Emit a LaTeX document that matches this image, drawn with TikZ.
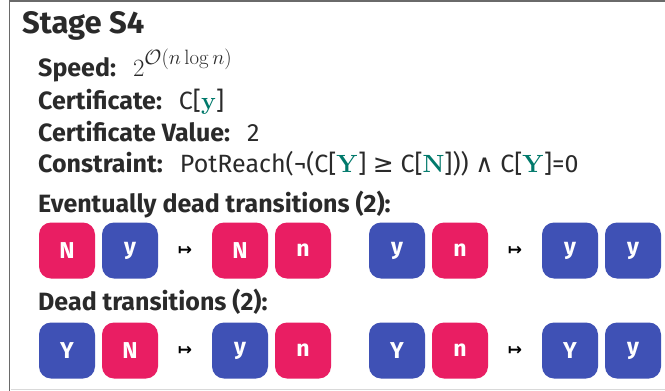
\documentclass[tikz,border=0pt]{standalone}
\usepackage{amsmath}
\usepackage[no-math]{fontspec}
\setmainfont{Fira Sans}
\newfontfamily\symfont{DejaVu Sans}
\definecolor{txt}{HTML}{2A2A2A}
\definecolor{pinkc}{HTML}{E91E63}
\definecolor{bluec}{HTML}{3F51B5}
\definecolor{tealc}{HTML}{00796B}
\definecolor{framec}{HTML}{6A6A6A}
\newcommand{\tv}[1]{\textcolor{tealc}{$\mathbf{#1}$}}
\newcommand{\gapx}{\hspace{17pt}}
\begin{document}
\begin{tikzpicture}[x=1pt,y=-1pt,
  lbl/.style={anchor=base west,inner sep=0pt,text=txt,font=\fontsize{25}{29}\selectfont},
  tok/.style={rounded corners=12pt,minimum width=56pt,minimum height=56pt,inner sep=0pt,text=white,font=\fontsize{23}{27}\selectfont\bfseries},
  pk/.style={tok,fill=pinkc},
  bl/.style={tok,fill=bluec},
  maps/.style={inner sep=0pt,text=black,font=\fontsize{17}{20}\selectfont\symfont\bfseries}]
\useasboundingbox (0,0) rectangle (665,391);
\fill[white] (0,0) rectangle (665,391);
\draw[framec,line width=1.5pt] (9.5,391) -- (9.5,0.75) -- (665,0.75);
\draw[black!15,line width=1pt] (10.5,389.5) -- (665,389.5);

\node[lbl,font=\fontsize{31}{35}\selectfont\bfseries] (title) at (22,33) {Stage S4};
\node[lbl] (speed) at (38,76.5) {\textbf{Speed:}\gapx{\fontsize{26}{30}\selectfont$2$}\raisebox{12.5pt}{\fontsize{21}{24}\selectfont$\mathcal{O}(n\log n)$}};
\node[lbl] (cert) at (38,109) {\textbf{Certificate:}\gapx C[\tv{y}]};
\node[lbl] (certv) at (38,141) {\textbf{Certificate Value:}\gapx 2};
\node[lbl] (cons) at (38,172) {\textbf{Constraint:}\gapx PotReach(¬(C[\tv{Y}] {\symfont ≥} C[\tv{N}])) {\symfont ∧} C[\tv{Y}]=0};
\node[lbl,font=\fontsize{25}{29}\selectfont\bfseries] (ev) at (38,212) {Eventually dead transitions (2):};
\node[lbl,font=\fontsize{25}{29}\selectfont\bfseries] (dead) at (38,310) {Dead transitions (2):};

\node[pk] (a1) at (67,250.5) {N};
\node[bl] (a2) at (130,250.5) {y};
\node[maps] (am) at (185,250.5) {↦};
\node[pk] (a3) at (240,250.5) {N};
\node[pk] (a4) at (303,250.5) {n};
\node[bl] (b1) at (397,250.5) {y};
\node[pk] (b2) at (460,250.5) {n};
\node[maps] (bm) at (515,250.5) {↦};
\node[bl] (b3) at (570,250.5) {y};
\node[bl] (b4) at (633,250.5) {y};

\node[bl] (c1) at (67,350.5) {Y};
\node[pk] (c2) at (130,350.5) {N};
\node[maps] (cm) at (185,350.5) {↦};
\node[bl] (c3) at (240,350.5) {y};
\node[pk] (c4) at (303,350.5) {n};
\node[bl] (d1) at (397,350.5) {Y};
\node[pk] (d2) at (460,350.5) {n};
\node[maps] (dm) at (515,350.5) {↦};
\node[bl] (d3) at (570,350.5) {Y};
\node[bl] (d4) at (633,350.5) {y};
\end{tikzpicture}
\end{document}
